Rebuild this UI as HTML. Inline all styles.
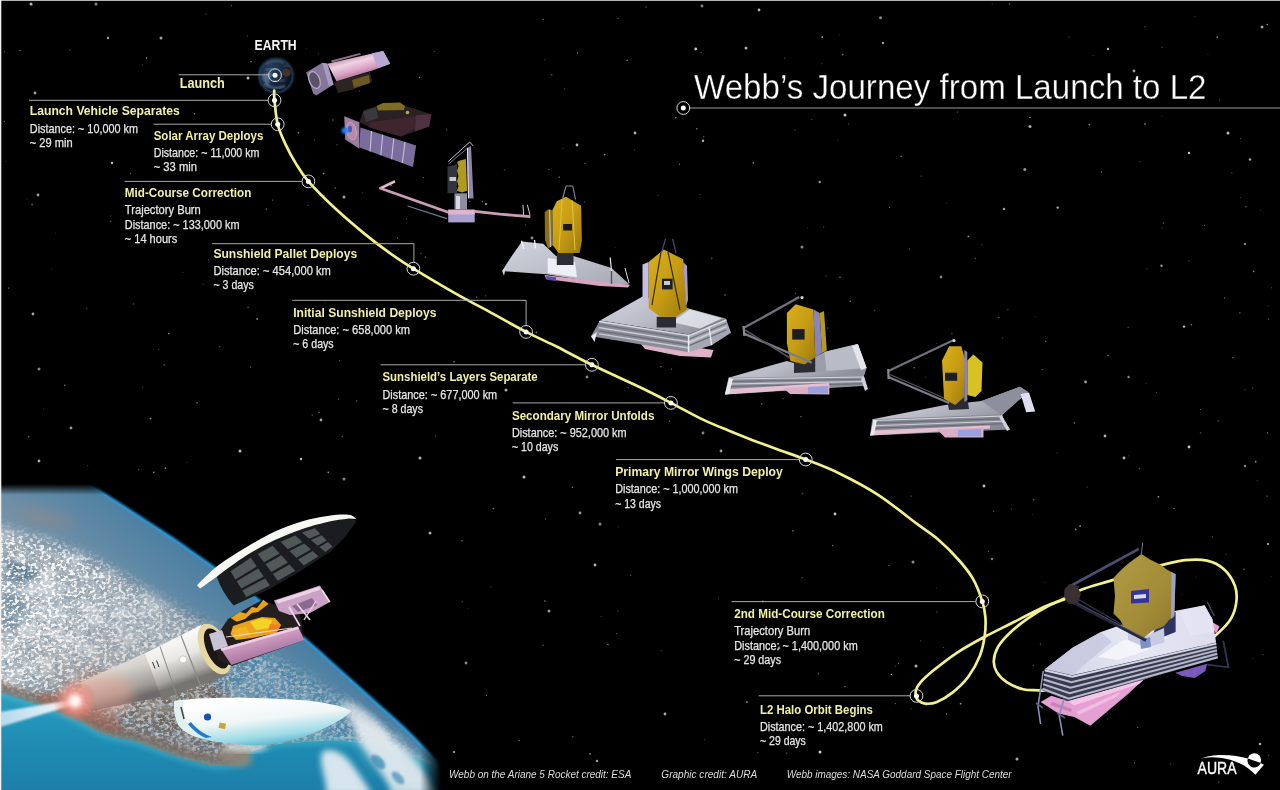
<!DOCTYPE html>
<html lang="en"><head><meta charset="utf-8"><title>Webb’s Journey from Launch to L2</title>
<style>
html,body{margin:0;padding:0;background:#000;}
body{width:1280px;height:790px;overflow:hidden;font-family:"Liberation Sans",sans-serif;}
svg{display:block;}
text{font-family:"Liberation Sans",sans-serif;}
.h{font-weight:bold;fill:#f1f0a6;font-size:12.8px;}
.b{fill:#e6e6e6;font-size:12.4px;stroke:#e6e6e6;stroke-width:0.25px;}
.c{fill:#dcdcdc;font-size:10.6px;font-style:italic;}
.ld{stroke:#a9a9a9;stroke-width:1;fill:none;}
.ring{fill:none;stroke:#d8d8d8;stroke-width:1;}
.dot{fill:#fff;}
</style></head><body>
<svg width="1280" height="790" viewBox="0 0 1280 790">
<rect width="1280" height="790" fill="#000"/>
<g id="stars" fill="#fff">
<circle cx="695.7" cy="49.0" r="1.4" opacity="0.78"/>
<circle cx="759.0" cy="10.0" r="1.4" opacity="0.70"/>
<circle cx="1108.0" cy="49.0" r="1.2" opacity="0.75"/>
<circle cx="819.7" cy="182.0" r="1.2" opacity="0.61"/>
<circle cx="1184.0" cy="326.6" r="1.2" opacity="0.77"/>
<circle cx="1245.0" cy="244.0" r="1.2" opacity="0.51"/>
<circle cx="1085.6" cy="382.0" r="1.4" opacity="0.63"/>
<circle cx="1128.6" cy="377.0" r="1.2" opacity="0.53"/>
<circle cx="941.0" cy="277.0" r="1.4" opacity="0.52"/>
<circle cx="802.0" cy="247.0" r="1.5" opacity="0.54"/>
<circle cx="703.0" cy="140.8" r="1.2" opacity="0.69"/>
<circle cx="845.0" cy="115.0" r="1.5" opacity="0.78"/>
<circle cx="1030.0" cy="126.6" r="1.5" opacity="0.68"/>
<circle cx="1189.0" cy="153.0" r="1.2" opacity="0.79"/>
<circle cx="1250.0" cy="159.5" r="1.2" opacity="0.67"/>
<circle cx="1161.5" cy="265.8" r="1.2" opacity="0.59"/>
<circle cx="1057.7" cy="207.6" r="1.2" opacity="0.66"/>
<circle cx="1024.8" cy="169.6" r="1.5" opacity="0.59"/>
<circle cx="880.5" cy="17.7" r="1.5" opacity="0.55"/>
<circle cx="746.0" cy="48.0" r="1.5" opacity="0.67"/>
<circle cx="883.0" cy="43.0" r="1.2" opacity="0.61"/>
<circle cx="31.0" cy="4.0" r="1.5" opacity="0.71"/>
<circle cx="96.0" cy="4.0" r="1.5" opacity="0.52"/>
<circle cx="108.0" cy="38.0" r="1.2" opacity="0.65"/>
<circle cx="161.0" cy="38.0" r="1.5" opacity="0.63"/>
<circle cx="35.0" cy="93.0" r="1.4" opacity="0.64"/>
<circle cx="38.0" cy="195.0" r="1.4" opacity="0.61"/>
<circle cx="112.0" cy="163.0" r="1.2" opacity="0.74"/>
<circle cx="248.0" cy="78.0" r="1.5" opacity="0.73"/>
<circle cx="348.0" cy="126.0" r="1.2" opacity="0.67"/>
<circle cx="344.0" cy="197.0" r="1.5" opacity="0.65"/>
<circle cx="577.0" cy="145.0" r="1.4" opacity="0.72"/>
<circle cx="635.0" cy="133.0" r="1.4" opacity="0.68"/>
<circle cx="486.0" cy="204.0" r="1.2" opacity="0.54"/>
<circle cx="532.0" cy="238.0" r="1.4" opacity="0.55"/>
<circle cx="587.0" cy="377.0" r="1.4" opacity="0.55"/>
<circle cx="33.0" cy="314.0" r="1.4" opacity="0.63"/>
<circle cx="39.0" cy="369.0" r="1.5" opacity="0.52"/>
<circle cx="506.0" cy="390.0" r="1.5" opacity="0.67"/>
<circle cx="71.0" cy="428.0" r="1.4" opacity="0.60"/>
<circle cx="39.0" cy="461.0" r="1.4" opacity="0.68"/>
<circle cx="240.0" cy="451.0" r="1.5" opacity="0.74"/>
<circle cx="301.0" cy="459.0" r="1.2" opacity="0.75"/>
<circle cx="321.0" cy="420.0" r="1.4" opacity="0.64"/>
<circle cx="344.0" cy="479.0" r="1.5" opacity="0.52"/>
<circle cx="420.0" cy="458.0" r="1.5" opacity="0.71"/>
<circle cx="430.0" cy="533.0" r="1.5" opacity="0.67"/>
<circle cx="524.0" cy="477.0" r="1.5" opacity="0.75"/>
<circle cx="595.0" cy="565.0" r="1.4" opacity="0.71"/>
<circle cx="549.0" cy="611.0" r="1.5" opacity="0.60"/>
<circle cx="580.0" cy="513.0" r="1.4" opacity="0.61"/>
<circle cx="600.0" cy="524.0" r="1.5" opacity="0.54"/>
<circle cx="454.0" cy="752.0" r="1.2" opacity="0.57"/>
<circle cx="466.0" cy="663.0" r="1.4" opacity="0.54"/>
<circle cx="597.0" cy="761.0" r="1.2" opacity="0.62"/>
<circle cx="703.0" cy="433.0" r="1.4" opacity="0.52"/>
<circle cx="721.0" cy="451.0" r="1.4" opacity="0.62"/>
<circle cx="835.0" cy="514.0" r="1.4" opacity="0.77"/>
<circle cx="984.0" cy="486.0" r="1.4" opacity="0.76"/>
<circle cx="1105.0" cy="436.0" r="1.4" opacity="0.71"/>
<circle cx="1124.0" cy="458.0" r="1.4" opacity="0.70"/>
<circle cx="1189.0" cy="447.0" r="1.4" opacity="0.79"/>
<circle cx="1245.0" cy="466.0" r="1.2" opacity="0.52"/>
<circle cx="1268.0" cy="544.0" r="1.2" opacity="0.57"/>
<circle cx="992.0" cy="559.0" r="1.2" opacity="0.50"/>
<circle cx="913.0" cy="562.0" r="1.5" opacity="0.55"/>
<circle cx="779.0" cy="648.0" r="1.4" opacity="0.50"/>
<circle cx="665.0" cy="714.0" r="1.4" opacity="0.66"/>
<circle cx="1017.0" cy="759.0" r="1.5" opacity="0.67"/>
<circle cx="1260.0" cy="744.0" r="1.2" opacity="0.71"/>
<circle cx="820.0" cy="752.0" r="1.5" opacity="0.79"/>
<circle cx="916.0" cy="666.0" r="1.5" opacity="0.70"/>
<circle cx="1004.0" cy="209.0" r="1.2" opacity="0.64"/>
<circle cx="1228.0" cy="133.0" r="1.5" opacity="0.74"/>
<circle cx="1134.0" cy="71.0" r="1.4" opacity="0.62"/>
<circle cx="702.0" cy="6.0" r="1.4" opacity="0.53"/>
<circle cx="1262.0" cy="27.0" r="1.5" opacity="0.62"/>
<circle cx="564.5" cy="89.1" r="0.80" opacity="0.22"/>
<circle cx="4.3" cy="121.4" r="0.50" opacity="0.58"/>
<circle cx="784.7" cy="58.1" r="0.55" opacity="0.45"/>
<circle cx="445.9" cy="288.1" r="0.50" opacity="0.25"/>
<circle cx="615.1" cy="247.2" r="0.55" opacity="0.24"/>
<circle cx="439.8" cy="210.3" r="0.90" opacity="0.26"/>
<circle cx="675.9" cy="117.8" r="0.80" opacity="0.57"/>
<circle cx="968.4" cy="236.4" r="0.90" opacity="0.55"/>
<circle cx="889.6" cy="207.5" r="0.60" opacity="0.56"/>
<circle cx="456.4" cy="177.4" r="0.80" opacity="0.51"/>
<circle cx="423.3" cy="177.6" r="0.55" opacity="0.52"/>
<circle cx="1044.9" cy="582.3" r="0.55" opacity="0.28"/>
<circle cx="630.8" cy="575.4" r="0.50" opacity="0.52"/>
<circle cx="604.7" cy="154.6" r="0.80" opacity="0.58"/>
<circle cx="572.9" cy="736.7" r="0.60" opacity="0.58"/>
<circle cx="467.8" cy="175.6" r="0.55" opacity="0.39"/>
<circle cx="1257.2" cy="480.8" r="0.50" opacity="0.39"/>
<circle cx="1161.2" cy="615.5" r="0.55" opacity="0.39"/>
<circle cx="1239.9" cy="312.9" r="0.70" opacity="0.50"/>
<circle cx="1267.2" cy="24.6" r="0.80" opacity="0.56"/>
<circle cx="1029.9" cy="117.5" r="0.80" opacity="0.59"/>
<circle cx="840.0" cy="277.4" r="0.80" opacity="0.42"/>
<circle cx="957.4" cy="112.0" r="0.55" opacity="0.53"/>
<circle cx="272.4" cy="200.2" r="0.60" opacity="0.40"/>
<circle cx="975.4" cy="258.2" r="0.80" opacity="0.37"/>
<circle cx="454.0" cy="361.7" r="0.80" opacity="0.53"/>
<circle cx="661.3" cy="650.7" r="0.80" opacity="0.25"/>
<circle cx="197.1" cy="402.8" r="0.70" opacity="0.51"/>
<circle cx="194.5" cy="113.8" r="0.80" opacity="0.49"/>
<circle cx="711.8" cy="258.2" r="0.80" opacity="0.41"/>
<circle cx="617.7" cy="611.0" r="0.80" opacity="0.22"/>
<circle cx="247.3" cy="36.0" r="0.50" opacity="0.40"/>
<circle cx="718.5" cy="598.1" r="0.50" opacity="0.38"/>
<circle cx="783.1" cy="398.8" r="0.80" opacity="0.28"/>
<circle cx="356.6" cy="400.9" r="0.70" opacity="0.40"/>
<circle cx="319.0" cy="412.7" r="0.60" opacity="0.57"/>
<circle cx="1139.6" cy="161.6" r="0.70" opacity="0.25"/>
<circle cx="158.7" cy="349.2" r="0.50" opacity="0.47"/>
<circle cx="548.8" cy="169.5" r="0.60" opacity="0.51"/>
<circle cx="1145.0" cy="123.9" r="0.90" opacity="0.46"/>
<circle cx="469.8" cy="201.2" r="0.55" opacity="0.59"/>
<circle cx="1263.1" cy="654.8" r="0.55" opacity="0.48"/>
<circle cx="1268.5" cy="319.2" r="0.70" opacity="0.28"/>
<circle cx="28.8" cy="436.8" r="0.70" opacity="0.48"/>
<circle cx="110.9" cy="215.9" r="0.55" opacity="0.31"/>
<circle cx="168.8" cy="333.6" r="0.90" opacity="0.53"/>
<circle cx="333.0" cy="120.0" r="0.80" opacity="0.43"/>
<circle cx="545.0" cy="59.7" r="0.50" opacity="0.45"/>
<circle cx="1093.1" cy="55.2" r="0.50" opacity="0.38"/>
<circle cx="435.4" cy="436.0" r="0.60" opacity="0.45"/>
<circle cx="337.1" cy="144.8" r="0.60" opacity="0.45"/>
<circle cx="679.5" cy="164.2" r="0.70" opacity="0.40"/>
<circle cx="27.1" cy="199.1" r="0.50" opacity="0.21"/>
<circle cx="658.1" cy="195.4" r="0.70" opacity="0.24"/>
<circle cx="1045.7" cy="341.4" r="0.70" opacity="0.42"/>
<circle cx="1134.5" cy="762.8" r="0.60" opacity="0.48"/>
<circle cx="1253.7" cy="271.3" r="0.90" opacity="0.49"/>
<circle cx="1253.0" cy="658.4" r="0.50" opacity="0.23"/>
<circle cx="946.4" cy="203.1" r="0.55" opacity="0.22"/>
<circle cx="850.2" cy="301.2" r="0.80" opacity="0.47"/>
<circle cx="362.6" cy="192.7" r="0.60" opacity="0.22"/>
<circle cx="8.6" cy="288.1" r="0.60" opacity="0.59"/>
<circle cx="699.9" cy="194.4" r="0.60" opacity="0.29"/>
<circle cx="110.7" cy="221.4" r="0.90" opacity="0.28"/>
<circle cx="646.0" cy="6.9" r="0.60" opacity="0.53"/>
<circle cx="187.0" cy="462.5" r="0.70" opacity="0.21"/>
<circle cx="391.0" cy="185.3" r="0.80" opacity="0.58"/>
<circle cx="1089.3" cy="124.6" r="0.90" opacity="0.51"/>
<circle cx="762.8" cy="601.5" r="0.90" opacity="0.59"/>
<circle cx="822.2" cy="37.3" r="0.90" opacity="0.56"/>
<circle cx="802.0" cy="577.6" r="0.80" opacity="0.26"/>
<circle cx="670.2" cy="397.9" r="0.50" opacity="0.53"/>
<circle cx="746.9" cy="702.1" r="0.90" opacity="0.58"/>
<circle cx="1224.5" cy="297.9" r="0.70" opacity="0.42"/>
<circle cx="802.5" cy="493.3" r="0.90" opacity="0.30"/>
<circle cx="339.5" cy="360.8" r="0.50" opacity="0.50"/>
<circle cx="842.6" cy="54.7" r="0.90" opacity="0.39"/>
<circle cx="1033.3" cy="665.5" r="0.55" opacity="0.49"/>
<circle cx="1245.1" cy="389.8" r="0.70" opacity="0.23"/>
<circle cx="1162.1" cy="228.0" r="0.50" opacity="0.45"/>
<circle cx="821.6" cy="63.7" r="0.55" opacity="0.33"/>
<circle cx="832.8" cy="545.5" r="0.80" opacity="0.43"/>
<circle cx="19.9" cy="50.5" r="0.60" opacity="0.59"/>
<circle cx="130.6" cy="173.5" r="0.70" opacity="0.32"/>
<circle cx="661.0" cy="366.8" r="0.70" opacity="0.51"/>
<circle cx="1267.5" cy="432.9" r="0.60" opacity="0.59"/>
<circle cx="1194.9" cy="16.7" r="0.70" opacity="0.23"/>
<circle cx="1268.3" cy="305.9" r="0.55" opacity="0.23"/>
<circle cx="359.6" cy="91.2" r="0.60" opacity="0.29"/>
<circle cx="1145.9" cy="383.6" r="0.50" opacity="0.26"/>
<circle cx="1212.3" cy="536.7" r="0.70" opacity="0.32"/>
<circle cx="183.0" cy="272.3" r="0.60" opacity="0.25"/>
<circle cx="425.4" cy="257.1" r="0.60" opacity="0.54"/>
<circle cx="911.0" cy="708.9" r="0.60" opacity="0.30"/>
<circle cx="86.7" cy="308.5" r="0.80" opacity="0.23"/>
<circle cx="1181.1" cy="594.7" r="0.50" opacity="0.31"/>
<circle cx="811.7" cy="119.6" r="0.60" opacity="0.37"/>
<circle cx="1002.7" cy="337.9" r="0.50" opacity="0.52"/>
<circle cx="1200.6" cy="433.0" r="0.90" opacity="0.23"/>
<circle cx="1191.4" cy="324.7" r="0.80" opacity="0.50"/>
<circle cx="823.8" cy="227.1" r="0.50" opacity="0.56"/>
<circle cx="703.7" cy="136.7" r="0.70" opacity="0.34"/>
<circle cx="1245.8" cy="206.7" r="0.90" opacity="0.30"/>
<circle cx="618.6" cy="526.7" r="0.50" opacity="0.27"/>
<circle cx="1156.4" cy="392.2" r="0.55" opacity="0.38"/>
<circle cx="314.5" cy="139.8" r="0.80" opacity="0.24"/>
<circle cx="308.2" cy="205.3" r="0.80" opacity="0.28"/>
<circle cx="491.0" cy="587.0" r="0.55" opacity="0.35"/>
<circle cx="434.2" cy="51.6" r="0.60" opacity="0.43"/>
<circle cx="462.1" cy="540.7" r="0.80" opacity="0.45"/>
<circle cx="1101.6" cy="172.1" r="0.60" opacity="0.56"/>
<circle cx="493.2" cy="508.7" r="0.70" opacity="0.58"/>
<circle cx="1083.5" cy="686.5" r="0.50" opacity="0.25"/>
<circle cx="544.9" cy="601.0" r="0.70" opacity="0.59"/>
<circle cx="627.1" cy="60.3" r="0.80" opacity="0.54"/>
<circle cx="1240.7" cy="197.5" r="0.50" opacity="0.29"/>
<circle cx="895.7" cy="665.8" r="0.70" opacity="0.23"/>
<circle cx="992.2" cy="4.1" r="0.55" opacity="0.29"/>
<circle cx="1174.1" cy="508.4" r="0.60" opacity="0.58"/>
<circle cx="800.9" cy="416.6" r="0.70" opacity="0.48"/>
<circle cx="146.6" cy="58.1" r="0.80" opacity="0.58"/>
<circle cx="1009.5" cy="3.9" r="0.80" opacity="0.32"/>
<circle cx="590.0" cy="753.8" r="0.90" opacity="0.54"/>
<circle cx="312.3" cy="415.1" r="0.80" opacity="0.30"/>
<circle cx="1225.9" cy="554.7" r="0.60" opacity="0.22"/>
<circle cx="889.1" cy="565.5" r="0.60" opacity="0.47"/>
<circle cx="944.2" cy="398.3" r="0.55" opacity="0.40"/>
<circle cx="250.7" cy="367.2" r="0.60" opacity="0.50"/>
<circle cx="634.6" cy="149.7" r="0.55" opacity="0.39"/>
<circle cx="1162.0" cy="47.2" r="0.80" opacity="0.26"/>
<circle cx="504.5" cy="169.7" r="0.80" opacity="0.26"/>
<circle cx="69.9" cy="50.1" r="0.70" opacity="0.38"/>
<circle cx="909.7" cy="249.0" r="0.50" opacity="0.60"/>
<circle cx="1189.0" cy="260.8" r="0.55" opacity="0.46"/>
<circle cx="671.5" cy="369.1" r="0.60" opacity="0.47"/>
<circle cx="485.6" cy="295.8" r="0.60" opacity="0.38"/>
<circle cx="142.6" cy="64.3" r="0.50" opacity="0.34"/>
<circle cx="1219.4" cy="99.9" r="0.55" opacity="0.35"/>
<circle cx="981.8" cy="244.7" r="0.70" opacity="0.24"/>
<circle cx="901.1" cy="156.2" r="0.80" opacity="0.57"/>
<circle cx="1145.0" cy="26.7" r="0.70" opacity="0.30"/>
<circle cx="799.5" cy="319.9" r="0.70" opacity="0.21"/>
<circle cx="1147.0" cy="268.5" r="0.60" opacity="0.33"/>
<circle cx="1217.2" cy="37.1" r="0.90" opacity="0.49"/>
<circle cx="406.6" cy="218.8" r="0.50" opacity="0.49"/>
<circle cx="1207.9" cy="54.2" r="0.55" opacity="0.24"/>
<circle cx="914.2" cy="367.7" r="0.70" opacity="0.52"/>
<circle cx="1166.0" cy="641.0" r="0.55" opacity="0.57"/>
<circle cx="943.4" cy="647.2" r="0.55" opacity="0.44"/>
<circle cx="421.0" cy="253.2" r="0.60" opacity="0.51"/>
<circle cx="761.8" cy="403.8" r="0.70" opacity="0.50"/>
<circle cx="318.6" cy="53.7" r="0.50" opacity="0.39"/>
<circle cx="696.8" cy="128.8" r="0.70" opacity="0.55"/>
<circle cx="1260.5" cy="210.4" r="0.50" opacity="0.28"/>
<circle cx="1240.5" cy="138.6" r="0.55" opacity="0.37"/>
<circle cx="793.0" cy="530.8" r="0.90" opacity="0.42"/>
<circle cx="988.4" cy="597.7" r="0.60" opacity="0.32"/>
<circle cx="725.1" cy="295.0" r="0.90" opacity="0.30"/>
<circle cx="562.9" cy="148.4" r="0.55" opacity="0.26"/>
<circle cx="1128.7" cy="455.8" r="0.60" opacity="0.23"/>
<circle cx="324.1" cy="195.6" r="0.80" opacity="0.29"/>
<circle cx="1032.3" cy="514.6" r="0.50" opacity="0.24"/>
<circle cx="607.9" cy="644.4" r="0.70" opacity="0.57"/>
<circle cx="55.3" cy="232.9" r="0.50" opacity="0.22"/>
<circle cx="251.0" cy="61.8" r="0.80" opacity="0.55"/>
<circle cx="575.3" cy="206.5" r="0.90" opacity="0.58"/>
<circle cx="138.6" cy="469.8" r="0.80" opacity="0.34"/>
<circle cx="51.6" cy="269.2" r="0.50" opacity="0.28"/>
<circle cx="328.3" cy="472.3" r="0.90" opacity="0.57"/>
<circle cx="1040.4" cy="644.1" r="0.70" opacity="0.47"/>
<circle cx="701.1" cy="52.5" r="0.50" opacity="0.52"/>
<circle cx="848.6" cy="124.0" r="0.80" opacity="0.24"/>
<circle cx="525.3" cy="224.8" r="0.60" opacity="0.37"/>
<circle cx="1128.1" cy="327.2" r="0.50" opacity="0.55"/>
<circle cx="1271.7" cy="287.8" r="0.55" opacity="0.36"/>
<circle cx="519.1" cy="740.6" r="0.70" opacity="0.56"/>
<circle cx="543.0" cy="645.3" r="0.70" opacity="0.43"/>
<circle cx="467.9" cy="608.3" r="0.55" opacity="0.21"/>
<circle cx="795.4" cy="293.4" r="0.80" opacity="0.27"/>
<circle cx="446.6" cy="129.7" r="0.55" opacity="0.57"/>
<circle cx="142.4" cy="387.1" r="0.55" opacity="0.32"/>
<circle cx="1069.0" cy="37.1" r="0.70" opacity="0.33"/>
<circle cx="818.5" cy="673.7" r="0.80" opacity="0.36"/>
<circle cx="1080.6" cy="652.3" r="0.55" opacity="0.43"/>
<circle cx="203.0" cy="284.3" r="0.55" opacity="0.30"/>
<circle cx="926.1" cy="705.6" r="0.50" opacity="0.55"/>
<circle cx="1075.6" cy="529.4" r="0.90" opacity="0.54"/>
<circle cx="153.8" cy="472.4" r="0.80" opacity="0.54"/>
<circle cx="993.7" cy="511.2" r="0.60" opacity="0.43"/>
<circle cx="545.5" cy="518.9" r="0.70" opacity="0.40"/>
<circle cx="231.4" cy="5.7" r="0.70" opacity="0.39"/>
<circle cx="572.4" cy="487.3" r="0.70" opacity="0.53"/>
<circle cx="1035.0" cy="316.5" r="0.50" opacity="0.25"/>
<circle cx="551.7" cy="74.8" r="0.70" opacity="0.40"/>
<circle cx="839.8" cy="34.8" r="0.55" opacity="0.23"/>
<circle cx="937.0" cy="611.9" r="0.80" opacity="0.23"/>
<circle cx="960.6" cy="703.7" r="0.90" opacity="0.58"/>
<circle cx="1271.1" cy="576.2" r="0.50" opacity="0.28"/>
<circle cx="1252.8" cy="388.1" r="0.55" opacity="0.47"/>
<circle cx="921.2" cy="176.1" r="0.60" opacity="0.44"/>
<circle cx="584.5" cy="202.0" r="0.70" opacity="0.28"/>
<circle cx="338.4" cy="399.2" r="0.60" opacity="0.35"/>
<circle cx="257.1" cy="318.9" r="0.90" opacity="0.57"/>
<circle cx="150.4" cy="418.6" r="0.90" opacity="0.54"/>
<circle cx="1232.9" cy="357.7" r="0.80" opacity="0.43"/>
<circle cx="1267.0" cy="496.1" r="0.70" opacity="0.50"/>
<circle cx="476.5" cy="297.2" r="0.60" opacity="0.43"/>
<circle cx="462.2" cy="601.7" r="0.70" opacity="0.29"/>
<circle cx="786.8" cy="753.1" r="0.60" opacity="0.53"/>
<circle cx="1255.7" cy="461.7" r="0.90" opacity="0.56"/>
<circle cx="936.4" cy="588.0" r="0.55" opacity="0.26"/>
<circle cx="787.6" cy="341.4" r="0.80" opacity="0.35"/>
<circle cx="64.8" cy="385.4" r="0.80" opacity="0.46"/>
<circle cx="32.4" cy="5.0" r="0.60" opacity="0.32"/>
<circle cx="669.4" cy="421.2" r="0.70" opacity="0.43"/>
<circle cx="753.3" cy="162.9" r="0.80" opacity="0.53"/>
<circle cx="205.8" cy="14.0" r="0.55" opacity="0.48"/>
<circle cx="577.5" cy="52.9" r="0.55" opacity="0.55"/>
<circle cx="998.9" cy="317.7" r="0.60" opacity="0.59"/>
<circle cx="1139.5" cy="468.7" r="0.80" opacity="0.38"/>
<circle cx="1196.1" cy="577.3" r="0.55" opacity="0.27"/>
<circle cx="4.5" cy="51.2" r="0.50" opacity="0.36"/>
<circle cx="306.3" cy="48.7" r="0.50" opacity="0.20"/>
<circle cx="704.8" cy="739.7" r="0.55" opacity="0.37"/>
<circle cx="827.7" cy="328.1" r="0.80" opacity="0.27"/>
<circle cx="397.5" cy="238.1" r="0.50" opacity="0.60"/>
<circle cx="925.3" cy="377.2" r="0.80" opacity="0.20"/>
<circle cx="1078.1" cy="586.5" r="0.70" opacity="0.23"/>
<circle cx="837.8" cy="140.3" r="0.50" opacity="0.30"/>
<circle cx="1137.7" cy="727.4" r="0.60" opacity="0.48"/>
<circle cx="342.3" cy="436.6" r="0.70" opacity="0.47"/>
<circle cx="1170.8" cy="764.0" r="0.60" opacity="0.46"/>
<circle cx="1231.7" cy="172.9" r="0.80" opacity="0.21"/>
<circle cx="335.2" cy="187.9" r="0.90" opacity="0.28"/>
<circle cx="248.1" cy="307.4" r="0.80" opacity="0.30"/>
<circle cx="1158.4" cy="496.8" r="0.90" opacity="0.59"/>
<circle cx="1074.4" cy="423.0" r="0.70" opacity="0.54"/>
<circle cx="891.4" cy="674.4" r="0.70" opacity="0.58"/>
<circle cx="1007.9" cy="309.6" r="0.80" opacity="0.23"/>
<circle cx="1162.5" cy="116.2" r="0.50" opacity="0.24"/>
<circle cx="795.1" cy="129.7" r="0.55" opacity="0.48"/>
<circle cx="822.6" cy="36.4" r="0.50" opacity="0.49"/>
<circle cx="87.7" cy="465.3" r="0.60" opacity="0.28"/>
<circle cx="1218.2" cy="421.0" r="0.90" opacity="0.23"/>
<circle cx="1107.8" cy="719.0" r="0.70" opacity="0.24"/>
<circle cx="265.7" cy="90.7" r="0.50" opacity="0.58"/>
<circle cx="1162.9" cy="593.2" r="0.50" opacity="0.53"/>
<circle cx="807.3" cy="228.0" r="0.50" opacity="0.25"/>
<circle cx="1011.4" cy="509.1" r="0.60" opacity="0.33"/>
<circle cx="543.0" cy="19.4" r="0.60" opacity="0.57"/>
<circle cx="1161.9" cy="605.3" r="0.80" opacity="0.40"/>
<circle cx="1087.0" cy="487.1" r="0.50" opacity="0.52"/>
<circle cx="43.7" cy="409.1" r="0.50" opacity="0.34"/>
<circle cx="900.3" cy="424.2" r="0.55" opacity="0.49"/>
<circle cx="1057.0" cy="452.9" r="0.60" opacity="0.27"/>
<circle cx="5.7" cy="161.2" r="0.50" opacity="0.20"/>
<circle cx="628.3" cy="387.8" r="0.55" opacity="0.59"/>
<circle cx="757.7" cy="752.5" r="0.80" opacity="0.30"/>
<circle cx="1204.6" cy="225.2" r="0.55" opacity="0.58"/>
<circle cx="298.5" cy="132.8" r="0.90" opacity="0.51"/>
<circle cx="419.5" cy="77.5" r="0.70" opacity="0.56"/>
<circle cx="951.9" cy="333.5" r="0.90" opacity="0.21"/>
<circle cx="266.2" cy="209.1" r="0.80" opacity="0.40"/>
<circle cx="486.5" cy="695.2" r="0.55" opacity="0.58"/>
<circle cx="165.4" cy="468.2" r="0.90" opacity="0.50"/>
<circle cx="826.1" cy="275.9" r="0.60" opacity="0.41"/>
<circle cx="1108.1" cy="355.6" r="0.80" opacity="0.50"/>
<circle cx="219.7" cy="346.6" r="0.60" opacity="0.43"/>
<circle cx="164.3" cy="364.8" r="0.90" opacity="0.30"/>
<circle cx="898.4" cy="663.6" r="0.55" opacity="0.49"/>
<circle cx="1243.9" cy="569.2" r="0.80" opacity="0.41"/>
<circle cx="208.7" cy="259.9" r="0.55" opacity="0.30"/>
<circle cx="1218.7" cy="782.0" r="0.55" opacity="0.58"/>
<circle cx="133.3" cy="303.9" r="0.55" opacity="0.52"/>
<circle cx="936.7" cy="343.5" r="0.55" opacity="0.24"/>
<circle cx="1163.3" cy="222.9" r="0.70" opacity="0.39"/>
<circle cx="559.3" cy="177.2" r="0.90" opacity="0.32"/>
<circle cx="32.1" cy="204.4" r="0.90" opacity="0.36"/>
<circle cx="946.5" cy="714.0" r="0.70" opacity="0.48"/>
<circle cx="1080.1" cy="526.0" r="0.90" opacity="0.55"/>
<circle cx="988.6" cy="551.2" r="0.55" opacity="0.47"/>
<circle cx="820.0" cy="358.4" r="0.60" opacity="0.30"/>
<circle cx="895.2" cy="703.6" r="0.55" opacity="0.51"/>
<circle cx="911.1" cy="496.0" r="0.60" opacity="0.54"/>
<circle cx="618.0" cy="18.4" r="0.70" opacity="0.41"/>
<circle cx="844.9" cy="686.6" r="0.90" opacity="0.33"/>
<circle cx="323.6" cy="173.6" r="0.90" opacity="0.51"/>
<circle cx="1200.4" cy="409.5" r="0.50" opacity="0.54"/>
<circle cx="585.0" cy="163.5" r="0.70" opacity="0.40"/>
<circle cx="667.6" cy="324.3" r="0.70" opacity="0.28"/>
<circle cx="874.5" cy="310.3" r="0.50" opacity="0.49"/>
<circle cx="325.1" cy="302.0" r="0.50" opacity="0.21"/>
<circle cx="536.4" cy="332.3" r="0.90" opacity="0.47"/>
<circle cx="1268.7" cy="755.3" r="0.70" opacity="0.28"/>
<circle cx="1033.8" cy="499.7" r="0.70" opacity="0.46"/>
<circle cx="920.7" cy="640.9" r="0.55" opacity="0.34"/>
<circle cx="1042.2" cy="369.5" r="0.60" opacity="0.50"/>
<circle cx="601.1" cy="616.6" r="0.55" opacity="0.31"/>
<circle cx="482.5" cy="201.5" r="0.70" opacity="0.47"/>
<circle cx="616.6" cy="633.7" r="0.60" opacity="0.34"/>
</g>
<defs>
<clipPath id="earthClip"><path d="M60.0,470.0 C65.2,472.7 82.0,480.9 91.0,486.0 C100.0,491.1 107.0,495.9 114.0,500.4 C121.0,504.8 126.7,508.6 133.0,512.7 C139.3,516.8 145.7,520.9 152.0,525.0 C158.3,529.1 164.7,533.1 171.0,537.4 C177.3,541.7 183.7,546.3 190.0,550.7 C196.3,555.1 201.3,558.5 209.0,564.0 C216.7,569.5 227.0,576.9 236.0,583.5 C245.0,590.1 251.7,594.6 263.0,603.7 C274.3,612.8 293.2,629.0 303.8,638.1 C314.4,647.2 318.6,651.2 326.6,658.4 C334.6,665.6 343.5,673.5 351.9,681.1 C360.3,688.7 368.8,696.3 377.2,703.9 C385.6,711.5 394.9,719.5 402.5,726.7 C410.1,733.9 416.6,740.5 422.8,747.0 C429.1,753.5 433.8,758.8 440.0,766.0 C446.2,773.2 456.7,786.0 460.0,790.0 L460,800 L-5,800 L-5,470 Z"/></clipPath>
<linearGradient id="efTop" x1="0" y1="484" x2="0" y2="495" gradientUnits="userSpaceOnUse"><stop offset="0" stop-color="#000"/><stop offset="1" stop-color="#fff"/></linearGradient>
<linearGradient id="efRight" x1="420" y1="0" x2="441" y2="0" gradientUnits="userSpaceOnUse"><stop offset="0" stop-color="#000" stop-opacity="0"/><stop offset="1" stop-color="#000"/></linearGradient>
<mask id="earthMask" maskUnits="userSpaceOnUse" x="0" y="470" width="470" height="330">
  <rect x="0" y="470" width="462" height="330" fill="url(#efTop)"/>
  <rect x="400" y="470" width="70" height="330" fill="url(#efRight)"/>
</mask>
<linearGradient id="oceanG" x1="0" y1="690" x2="0" y2="790" gradientUnits="userSpaceOnUse">
  <stop offset="0" stop-color="#2c9fc2"/><stop offset="0.5" stop-color="#1f8db4"/><stop offset="1" stop-color="#1b7fa9"/>
</linearGradient>
<linearGradient id="hazeG" x1="250" y1="560" x2="170" y2="660" gradientUnits="userSpaceOnUse">
  <stop offset="0" stop-color="#3c78a0"/><stop offset="0.5" stop-color="#5a86a4"/><stop offset="1" stop-color="#7894a8"/>
</linearGradient>
<linearGradient id="spkG" x1="60" y1="590" x2="230" y2="740" gradientUnits="userSpaceOnUse"><stop offset="0" stop-color="#fff"/><stop offset="0.45" stop-color="#9a9a9a"/><stop offset="1" stop-color="#6a6a6a"/></linearGradient>
<mask id="spkMask" maskUnits="userSpaceOnUse" x="0" y="470" width="470" height="330"><rect x="0" y="470" width="470" height="330" fill="url(#spkG)"/></mask>
<filter id="bl3" x="-20%" y="-20%" width="140%" height="140%"><feGaussianBlur stdDeviation="3"/></filter>
<filter id="bl6" x="-30%" y="-30%" width="160%" height="160%"><feGaussianBlur stdDeviation="6"/></filter>
<filter id="bl12" x="-40%" y="-40%" width="180%" height="180%"><feGaussianBlur stdDeviation="12"/></filter>
<filter id="bl1" x="-20%" y="-20%" width="140%" height="140%"><feGaussianBlur stdDeviation="0.8"/></filter>
<filter id="cloudsF" x="0" y="0" width="100%" height="100%">
  <feTurbulence type="fractalNoise" baseFrequency="0.27 0.33" numOctaves="2" seed="11" result="n"/>
  <feColorMatrix in="n" type="matrix" values="0 0 0 0 1  0 0 0 0 1  0 0 0 0 1  5 5 0 0 -4.95"/>
</filter>
<filter id="cloudsD" x="0" y="0" width="100%" height="100%">
  <feTurbulence type="fractalNoise" baseFrequency="0.22 0.28" numOctaves="2" seed="29" result="n"/>
  <feColorMatrix in="n" type="matrix" values="0 0 0 0 0.25  0 0 0 0 0.33  0 0 0 0 0.4  4.5 4.5 0 0 -4.4"/>
</filter>
<filter id="cloudsBig" x="0" y="0" width="100%" height="100%">
  <feTurbulence type="fractalNoise" baseFrequency="0.035 0.05" numOctaves="3" seed="4" result="n"/>
  <feColorMatrix in="n" type="matrix" values="0 0 0 0 1  0 0 0 0 1  0 0 0 0 1  4 4 0 0 -3.9"/>
</filter>
</defs>
<g mask="url(#earthMask)">
<g clip-path="url(#earthClip)">
<rect x="0" y="470" width="470" height="330" fill="#76838d"/>
<ellipse cx="150" cy="688" rx="135" ry="40" transform="rotate(22 150 688)" fill="#6a5e54" opacity="0.9" filter="url(#bl12)"/>
<ellipse cx="318" cy="692" rx="125" ry="46" transform="rotate(42 318 692)" fill="#4f88aa" opacity="0.97" filter="url(#bl12)"/>
<ellipse cx="262" cy="688" rx="60" ry="24" transform="rotate(28 262 688)" fill="#5488aa" opacity="0.9" filter="url(#bl6)"/>
<ellipse cx="80" cy="610" rx="135" ry="52" transform="rotate(27 80 610)" fill="#c4ccd3" opacity="0.7" filter="url(#bl12)"/>
<ellipse cx="20" cy="650" rx="70" ry="45" fill="#d4dade" opacity="0.6" filter="url(#bl12)"/>
<ellipse cx="18" cy="572" rx="22" ry="10" transform="rotate(15 18 572)" fill="#456a82" opacity="0.75" filter="url(#bl3)"/>
<ellipse cx="12" cy="612" rx="14" ry="18" fill="#4d728a" opacity="0.6" filter="url(#bl3)"/>
<rect x="0" y="480" width="450" height="310" filter="url(#cloudsD)" opacity="0.8"/>
<g mask="url(#spkMask)">
<rect x="0" y="480" width="450" height="310" filter="url(#cloudsF)" opacity="0.88"/>
<rect x="0" y="480" width="450" height="310" filter="url(#cloudsBig)" opacity="0.35"/>
</g>
<path d="M74.0,454.0 C79.2,456.7 96.0,464.9 105.0,470.0 C114.0,475.1 121.0,479.9 128.0,484.4 C135.0,488.8 140.7,492.6 147.0,496.7 C153.3,500.8 159.7,504.9 166.0,509.0 C172.3,513.1 178.7,517.1 185.0,521.4 C191.3,525.7 197.7,530.3 204.0,534.7 C210.3,539.1 215.3,542.5 223.0,548.0 C230.7,553.5 241.0,560.9 250.0,567.5 C259.0,574.1 265.7,578.6 277.0,587.7 C288.3,596.8 307.2,613.0 317.8,622.1 C328.4,631.2 332.6,635.2 340.6,642.4 C348.6,649.6 357.5,657.5 365.9,665.1 C374.3,672.7 382.8,680.3 391.2,687.9 C399.6,695.5 408.9,703.5 416.5,710.7 C424.1,717.9 430.6,724.5 436.8,731.0 C443.1,737.5 447.8,742.8 454.0,750.0 C460.2,757.2 470.7,770.0 474.0,774.0 L490,800 L450.0,795.0 L435.0,776.0 L400.0,740.0 L350.0,703.0 L300.0,672.0 L250.0,646.0 L200.0,620.0 L150.0,592.0 L100.0,562.0 L50.0,541.0 L0.0,528.0 L-20.0,522.0 L-20,440 Z" fill="url(#hazeG)" filter="url(#bl6)"/>
<ellipse cx="45" cy="518" rx="30" ry="9" transform="rotate(12 45 518)" fill="#93898a" opacity="0.5" filter="url(#bl6)"/>
<path d="M-5.0,690.0 C-4.2,690.4 -6.0,690.4 0.0,692.6 C6.0,694.8 19.0,698.8 31.0,703.0 C43.0,707.2 59.9,712.5 72.0,717.8 C84.1,723.1 93.0,730.7 103.4,734.7 C113.9,738.7 123.9,738.7 134.7,741.9 C145.5,745.1 158.8,750.7 168.4,753.9 C178.0,757.1 184.4,759.1 192.4,761.1 C200.4,763.1 208.6,765.6 216.5,766.0 C224.4,766.4 234.1,765.8 240.0,763.5 C245.9,761.2 250.0,753.9 252.0,752.0" fill="none" stroke="#7c6152" stroke-width="20" opacity="0.8" filter="url(#bl3)"/>
<ellipse cx="80" cy="712" rx="45" ry="12" transform="rotate(20 80 712)" fill="#a0614f" opacity="0.6" filter="url(#bl3)"/>
<path d="M-5.0,690.0 C-4.2,690.4 -6.0,690.4 0.0,692.6 C6.0,694.8 19.0,698.8 31.0,703.0 C43.0,707.2 59.9,712.5 72.0,717.8 C84.1,723.1 93.0,730.7 103.4,734.7 C113.9,738.7 123.9,738.7 134.7,741.9 C145.5,745.1 158.8,750.7 168.4,753.9 C178.0,757.1 184.4,759.1 192.4,761.1 C200.4,763.1 208.6,765.6 216.5,766.0 C224.4,766.4 234.1,765.8 240.0,763.5 C245.9,761.2 246.0,755.2 252.0,752.0 C258.0,748.8 267.0,746.1 276.0,744.4 C285.0,742.7 295.3,742.5 306.0,741.9 C316.7,741.3 327.7,740.1 340.0,741.0 C352.3,741.9 365.0,743.2 380.0,747.0 C395.0,750.8 415.0,756.0 430.0,764.0 C445.0,772.0 463.3,789.8 470.0,795.0 L-5,795 Z" fill="url(#oceanG)"/>
<path d="M-5.0,690.0 C-4.2,690.4 -6.0,690.4 0.0,692.6 C6.0,694.8 19.0,698.8 31.0,703.0 C43.0,707.2 59.9,712.5 72.0,717.8 C84.1,723.1 93.0,730.7 103.4,734.7 C113.9,738.7 123.9,738.7 134.7,741.9 C145.5,745.1 158.8,750.7 168.4,753.9 C178.0,757.1 184.4,759.1 192.4,761.1 C200.4,763.1 208.6,765.6 216.5,766.0 C224.4,766.4 234.1,765.8 240.0,763.5 C245.9,761.2 246.0,755.2 252.0,752.0 C258.0,748.8 267.0,746.1 276.0,744.4 C285.0,742.7 295.3,742.5 306.0,741.9 C316.7,741.3 327.7,740.1 340.0,741.0 C352.3,741.9 365.0,743.2 380.0,747.0 C395.0,750.8 415.0,756.0 430.0,764.0 C445.0,772.0 463.3,789.8 470.0,795.0" fill="none" stroke="#58c4d4" stroke-width="4" opacity="0.7" filter="url(#bl3)"/>
<ellipse cx="392" cy="758" rx="44" ry="16" transform="rotate(42 392 758)" fill="#dfe7ec" opacity="0.6" filter="url(#bl6)"/>
<path d="M322,752 C330,747 342,752 350,762 C358,772 366,784 372,795 L326,795 C328,782 318,764 322,752 Z" fill="#e6eef3" opacity="0.92" filter="url(#bl3)"/>
<path d="M356,716 C372,722 392,738 408,754 C420,766 430,780 436,795 L392,795 C388,778 372,760 362,744 C356,734 352,722 356,716 Z" fill="#e3eaef" opacity="0.85" filter="url(#bl3)"/>
<ellipse cx="378" cy="762" rx="9" ry="5" transform="rotate(45 378 762)" fill="#3f8fb4" opacity="0.8" filter="url(#bl1)"/>
<ellipse cx="398" cy="778" rx="8" ry="4" transform="rotate(45 398 778)" fill="#3f8fb4" opacity="0.7" filter="url(#bl1)"/>
<ellipse cx="365" cy="722" rx="30" ry="9" transform="rotate(40 365 722)" fill="#dfe6ea" opacity="0.75" filter="url(#bl3)"/>
<ellipse cx="236" cy="757" rx="17" ry="9" transform="rotate(15 236 757)" fill="#8d8678" opacity="0.9" filter="url(#bl3)"/>
<ellipse cx="245" cy="747" rx="22" ry="5" fill="#e3e9ec" opacity="0.8" filter="url(#bl3)"/>
</g>
<path d="M60.0,470.0 C65.2,472.7 82.0,480.9 91.0,486.0 C100.0,491.1 107.0,495.9 114.0,500.4 C121.0,504.8 126.7,508.6 133.0,512.7 C139.3,516.8 145.7,520.9 152.0,525.0 C158.3,529.1 164.7,533.1 171.0,537.4 C177.3,541.7 183.7,546.3 190.0,550.7 C196.3,555.1 201.3,558.5 209.0,564.0 C216.7,569.5 227.0,576.9 236.0,583.5 C245.0,590.1 251.7,594.6 263.0,603.7 C274.3,612.8 293.2,629.0 303.8,638.1 C314.4,647.2 318.6,651.2 326.6,658.4 C334.6,665.6 343.5,673.5 351.9,681.1 C360.3,688.7 368.8,696.3 377.2,703.9 C385.6,711.5 394.9,719.5 402.5,726.7 C410.1,733.9 416.6,740.5 422.8,747.0 C429.1,753.5 433.8,758.8 440.0,766.0 C446.2,773.2 456.7,786.0 460.0,790.0" fill="none" stroke="#2a98dc" stroke-width="3.2" opacity="0.9" filter="url(#bl1)"/>
</g>
<defs>
<linearGradient id="rkBody" x1="150" y1="640" x2="164" y2="690" gradientUnits="userSpaceOnUse">
 <stop offset="0" stop-color="#f1efeb"/><stop offset="0.4" stop-color="#d6d3cd"/><stop offset="0.8" stop-color="#a09d98"/><stop offset="1" stop-color="#6d6b69"/>
</linearGradient>
<linearGradient id="rkWhite" x1="180" y1="628" x2="198" y2="678" gradientUnits="userSpaceOnUse">
 <stop offset="0" stop-color="#ffffff"/><stop offset="0.5" stop-color="#e9e8e4"/><stop offset="0.85" stop-color="#a9a7a2"/><stop offset="1" stop-color="#77756f"/>
</linearGradient>
<linearGradient id="fairLow" x1="260" y1="697" x2="266" y2="746" gradientUnits="userSpaceOnUse">
 <stop offset="0" stop-color="#ffffff"/><stop offset="0.45" stop-color="#eef6f6"/><stop offset="0.8" stop-color="#9fdbe6"/><stop offset="1" stop-color="#54b6cf"/>
</linearGradient>
<radialGradient id="exG" cx="75" cy="701" r="22" gradientUnits="userSpaceOnUse">
 <stop offset="0" stop-color="#fff"/><stop offset="0.18" stop-color="#ffe9e4"/><stop offset="0.45" stop-color="#f59a8c" stop-opacity="0.75"/><stop offset="1" stop-color="#e0705c" stop-opacity="0"/>
</radialGradient>
<linearGradient id="plumeG" x1="75" y1="0" x2="0" y2="0" gradientUnits="userSpaceOnUse">
 <stop offset="0" stop-color="#fff" stop-opacity="0.95"/><stop offset="1" stop-color="#cfe6f4" stop-opacity="0.85"/>
</linearGradient>
<linearGradient id="pinkBox" x1="250" y1="630" x2="258" y2="660" gradientUnits="userSpaceOnUse">
 <stop offset="0" stop-color="#e3b9d6"/><stop offset="1" stop-color="#a8709e"/>
</linearGradient>
</defs>
<g id="rocket">
<path d="M76,699 L0,712 L0,727 L40,715 L76,704 Z" fill="url(#plumeG)" filter="url(#bl1)"/>
<path d="M174,701 C200,697 240,696.5 300,700 C325,702 343,706 351.5,711 C345,718 325,730 300,738 C280,744 262,746 245,745 C225,743.5 205,740.5 196,737 C186,733 179,728 177,722 C174.5,715 173.5,707 174,701 Z" fill="url(#fairLow)"/>
<path d="M196,737 C186,733 179,728 177,722 C174.5,715 173.5,707 174,701 L183,700.3 C183,708 184,716 187,722 C190,729 196,734 204,738 Z" fill="#dfeeee" opacity="0.9"/>
<circle cx="207.5" cy="717" r="3.6" fill="#1c4fb0"/>
<path d="M191,722 C196,728 203,734 212,737 L206,738 C198,735 192,729 188,724 Z" fill="#2a78c8"/>
<rect x="219" y="723" width="6.5" height="5.5" fill="#caa43a" transform="rotate(12 222 726)"/>
<path d="M181,707 L184,719" stroke="#444" stroke-width="1.6"/>
<polygon points="80.0,682.5 162.0,645.5 178.0,693.5 91.0,711.0" fill="url(#rkBody)" />
<polygon points="145.0,653.5 201.0,625.0 227.0,675.5 162.0,699.5" fill="url(#rkWhite)" />
<line x1="160.0" y1="646.5" x2="177.0" y2="696.0" stroke="#8a8884" stroke-width="1" />
<line x1="181.0" y1="635.5" x2="201.0" y2="687.0" stroke="#8d8b86" stroke-width="1.2" />
<circle cx="183" cy="659.5" r="3.6" fill="#fbfbf8" stroke="#b8b6b0" stroke-width="0.6"/>
<path d="M152.5,662 l2.5,6.5 M156.5,660.5 l2.5,6.5" stroke="#333" stroke-width="1" fill="none"/>
<ellipse cx="100" cy="694" rx="34" ry="20" fill="#f2a090" opacity="0.45" filter="url(#bl6)"/>
<ellipse cx="214.5" cy="649" rx="14" ry="27" transform="rotate(-24 214.5 649)" fill="#e6d7a2"/>
<ellipse cx="216.5" cy="648.5" rx="10" ry="21.5" transform="rotate(-24 216.5 648.5)" fill="#1c1714"/>
<polygon points="214.0,640.0 228.0,619.0 262.0,600.0 300.0,614.0 304.0,640.0 232.0,666.0 218.0,660.0" fill="#241f1f" />
<polygon points="209.0,634.0 222.0,630.0 228.0,646.0 214.0,651.0" fill="#c9c3d6" />
<polygon points="230.5,618.0 240.0,612.0 246.0,613.5 252.0,607.0 257.0,608.0 263.4,599.7 268.5,604.1 258.0,612.0 252.0,613.0 245.0,619.0 236.8,621.8" fill="#e9a31a" />
<polygon points="233.0,626.0 248.0,621.0 262.0,617.0 275.0,618.0 281.0,625.0 276.0,633.0 252.0,638.0 236.0,640.0 230.5,634.0" fill="#e8a21c" />
<polygon points="250.0,622.0 262.0,618.0 272.0,620.0 270.0,628.0 256.0,630.0" fill="#f4d226" />
<polygon points="270.0,624.0 281.0,625.0 277.0,632.0 268.0,631.0" fill="#ef7f22" />
<polygon points="232.0,630.0 246.0,626.0 250.0,634.0 236.0,639.0" fill="#f1b322" />
<line x1="226.0" y1="637.0" x2="292.0" y2="628.0" stroke="#e9dcc6" stroke-width="1" />
<polygon points="220.5,648.5 298.0,626.5 304.5,640.0 231.5,665.0" fill="url(#pinkBox)" />
<polygon points="220.5,648.5 298.0,626.5 299.0,629.0 221.5,651.0" fill="#f0cde4" />
<polygon points="273.9,600.4 320.0,585.5 329.8,602.0 310.0,613.0 290.0,615.0 279.0,611.0" fill="#caa2c6" />
<polygon points="276.0,600.6 319.0,586.8 321.0,589.5 278.0,603.5" fill="#ecd2e6" />
<polygon points="292.0,606.0 312.0,598.0 317.0,605.0 298.0,612.0" fill="#8c6a90" />
<line x1="289.0" y1="607.0" x2="300.0" y2="626.0" stroke="#f1d8ea" stroke-width="1.6" />
<line x1="297.0" y1="604.0" x2="310.0" y2="620.0" stroke="#f1d8ea" stroke-width="1.6" />
<line x1="316.0" y1="601.0" x2="304.0" y2="620.0" stroke="#e8cfe2" stroke-width="1.4" />
<line x1="322.0" y1="590.0" x2="329.8" y2="602.0" stroke="#f3dcec" stroke-width="1.6" />
<path d="M216.7,576.7 C221.6,573.2 236.7,561.7 246.3,555.6 C255.9,549.5 265.0,544.7 274.4,540.2 C283.8,535.8 293.1,532.1 302.5,528.9 C311.9,525.7 322.9,523.0 330.6,521.2 C338.3,519.5 344.7,518.5 348.9,518.4 C353.1,518.3 354.8,520.1 356.0,520.5 L356,521.9 L344.7,537.3 L330.6,551.4 L302.5,569.7 L268.8,589.4 L233.6,605.6 Q222,592 216.7,576.7 Z" fill="#1b1c1f"/>
<path d="M197.0,585.2 C200.5,581.9 209.9,571.8 218.1,565.5 C226.3,559.2 236.9,552.8 246.3,547.2 C255.7,541.6 265.0,536.0 274.4,531.7 C283.8,527.4 293.1,523.9 302.5,521.2 C311.9,518.5 322.9,516.6 330.6,515.5 C338.3,514.4 344.5,514.2 348.9,514.8 C353.2,515.4 355.4,518.4 356.7,519.1 L348.9,518.4 C345.8,518.9 338.3,519.5 330.6,521.2 C322.9,523.0 311.9,525.7 302.5,528.9 C293.1,532.1 283.8,535.8 274.4,540.2 C265.0,544.7 255.9,549.5 246.3,555.6 C236.7,561.7 224.4,571.2 216.7,576.7 C209.0,582.2 202.8,586.5 200.0,588.5 Z" fill="#f7f7f3"/>
<polygon points="230.5,571.3 250.8,557.7 256.8,566.4 235.4,579.4" fill="#535d5b" opacity="0.95"/>
<polygon points="236.6,581.2 258.2,568.4 263.7,576.4 241.2,588.6" fill="#535d5b" opacity="0.95"/>
<polygon points="242.3,590.5 265.1,578.5 269.9,585.5 246.3,597.0" fill="#535d5b" opacity="0.95"/>
<polygon points="257.7,553.9 272.6,545.7 279.7,553.5 264.0,562.3" fill="#535d5b" opacity="0.95"/>
<polygon points="265.5,564.3 281.3,555.3 287.9,562.6 271.3,572.1" fill="#535d5b" opacity="0.95"/>
<polygon points="272.8,574.0 289.5,564.4 295.2,570.7 277.9,580.8" fill="#535d5b" opacity="0.95"/>
<polygon points="280.6,541.7 295.2,535.5 302.5,542.0 287.9,549.2" fill="#535d5b" opacity="0.95"/>
<polygon points="289.6,550.9 304.2,543.5 310.9,549.5 296.3,557.8" fill="#535d5b" opacity="0.95"/>
<polygon points="298.0,559.5 312.6,551.0 318.5,556.2 303.9,565.5" fill="#535d5b" opacity="0.95"/>
<polygon points="301.9,532.6 314.8,528.3 320.3,534.0 309.2,538.7" fill="#535d5b" opacity="0.95"/>
<polygon points="310.9,540.1 321.6,535.3 326.7,540.6 317.7,545.7" fill="#535d5b" opacity="0.95"/>
<polygon points="319.4,547.1 328.0,541.9 332.5,546.5 325.3,552.0" fill="#535d5b" opacity="0.95"/>
<circle cx="75" cy="701" r="22" fill="url(#exG)"/>
</g>
<defs>
<radialGradient id="globeG" cx="270" cy="70" r="22" gradientUnits="userSpaceOnUse"><stop offset="0" stop-color="#27405e"/><stop offset="0.6" stop-color="#172a42"/><stop offset="1" stop-color="#0a1420"/></radialGradient>
<radialGradient id="globeHalo" cx="275.9" cy="75.6" r="19.5" gradientUnits="userSpaceOnUse"><stop offset="0.8" stop-color="#35608f" stop-opacity="0.85"/><stop offset="1" stop-color="#23466f" stop-opacity="0"/></radialGradient>
<clipPath id="globeClip"><circle cx="275.9" cy="75.6" r="16"/></clipPath>
</defs>
<circle cx="275.9" cy="75.6" r="19.5" fill="url(#globeHalo)"/>
<circle cx="275.9" cy="75.6" r="16" fill="url(#globeG)"/>
<g clip-path="url(#globeClip)">
<path d="M283,69.5 C286,68 290,69 290.5,72 C291,75 288.5,77 285.5,76.5 C283,76 281.8,72 283,69.5 Z" fill="#4a3222"/>
<path d="M284,66 C287,64.5 290,65.5 291,67.5" stroke="#7d92ac" stroke-width="1.2" fill="none" opacity="0.6" filter="url(#bl1)"/>
<path d="M266,70 C268,68 271,68 273,69.5" stroke="#93a7c0" stroke-width="1.5" fill="none" opacity="0.6" filter="url(#bl1)"/>
<path d="M262,76 C265,72 270,72 273,74 C270,77 268,82 270,86 C266,85 262,81 262,76 Z" fill="#7f9cc0" opacity="0.55" filter="url(#bl1)"/>
<path d="M266,64 C271,60.5 279,60 284,63" stroke="#8aa6c6" stroke-width="1.6" fill="none" opacity="0.5" filter="url(#bl1)"/>
<path d="M264,84 C270,88 278,89 285,86" stroke="#9fb8d4" stroke-width="2" fill="none" opacity="0.55" filter="url(#bl1)"/>
<path d="M272,80 C276,82 281,82 285,80" stroke="#b9cbe0" stroke-width="1.2" fill="none" opacity="0.5" filter="url(#bl1)"/>
</g>
<path id="traj" d="M274.2,90.5 C274.2,92.1 273.9,94.7 274.5,100.3 C275.1,105.9 275.9,117.0 277.7,124.3 C279.5,131.6 282.2,137.2 285.3,143.9 C288.4,150.6 292.5,158.2 296.4,164.4 C300.2,170.7 302.1,174.2 308.4,181.4 C314.7,188.6 324.8,198.8 334.2,207.6 C343.6,216.3 355.3,226.3 364.6,233.9 C373.9,241.5 381.8,247.4 389.9,253.2 C398.0,259.0 402.4,261.9 413.4,268.7 C424.4,275.4 443.6,286.8 455.7,293.7 C467.8,300.6 474.3,303.5 486.0,309.9 C497.7,316.3 514.3,325.8 526.1,331.9 C537.9,338.0 546.0,341.3 557.0,346.8 C568.0,352.3 578.1,358.1 591.9,364.8 C605.7,371.6 626.8,381.0 640.0,387.3 C653.2,393.6 660.5,397.5 670.9,402.9 C681.3,408.2 693.0,414.8 702.5,419.4 C712.0,424.0 719.3,426.8 727.8,430.3 C736.2,433.8 744.8,437.2 753.2,440.4 C761.7,443.6 769.8,446.5 778.5,449.7 C787.2,452.9 795.6,455.6 805.7,459.5 C815.8,463.4 826.8,467.3 838.9,473.2 C851.0,479.1 865.0,486.3 878.1,494.8 C891.2,503.3 907.3,516.7 917.4,524.2 C927.5,531.7 931.7,534.0 938.7,540.0 C945.7,546.0 953.5,554.0 959.2,560.5 C964.9,567.0 969.0,571.9 972.9,578.7 C976.8,585.5 980.2,595.0 982.3,601.4 C984.4,607.8 985.0,611.7 985.4,617.4 C985.8,623.1 985.7,629.2 984.7,635.7 C983.8,642.2 982.4,649.4 979.7,656.2 C977.0,663.0 972.8,670.6 968.3,676.7 C963.8,682.8 957.7,688.4 952.4,692.6 C947.1,696.9 940.9,700.4 936.4,702.2 C931.9,704.0 928.1,703.9 925.1,703.6 C922.1,703.3 919.7,701.9 918.2,700.6 C916.7,699.3 916.5,697.7 916.1,696.0 C915.7,694.3 915.2,692.6 915.9,690.3 C916.6,688.0 917.5,685.8 920.5,682.4 C923.5,679.0 928.1,674.7 934.2,669.8 C940.3,664.9 948.5,658.3 956.9,652.8 C965.3,647.3 975.2,641.9 984.7,636.8 C994.2,631.7 1004.5,626.8 1013.9,622.0 C1023.3,617.2 1032.9,612.2 1041.2,608.3 C1049.5,604.4 1057.2,601.9 1064.0,598.8 C1070.8,595.7 1073.7,592.6 1081.8,589.5 C1089.9,586.4 1102.7,583.2 1112.4,580.1 C1122.1,577.0 1131.7,573.5 1140.0,571.0 C1148.3,568.5 1155.0,566.6 1162.5,564.8 C1170.0,563.0 1177.4,560.8 1184.8,560.1 C1192.2,559.4 1200.5,559.1 1207.0,560.6 C1213.5,562.1 1219.0,564.8 1223.7,569.0 C1228.4,573.2 1232.8,580.1 1234.9,585.7 C1237.0,591.3 1237.0,596.8 1236.3,602.4 C1235.6,608.0 1233.7,614.0 1230.7,619.1 C1227.7,624.2 1224.2,627.5 1218.2,633.0 C1212.2,638.5 1206.4,644.8 1195.0,652.0 C1183.6,659.2 1165.8,669.8 1150.0,676.0 C1134.2,682.2 1115.0,686.4 1100.0,689.0 C1085.0,691.6 1070.2,691.3 1060.0,691.5 C1049.8,691.7 1045.1,690.7 1038.9,690.3 C1032.7,689.9 1028.3,690.5 1023.0,689.2 C1017.7,687.9 1011.5,685.2 1007.1,682.4 C1002.7,679.5 999.0,675.7 996.8,672.1 C994.6,668.5 993.6,664.9 993.8,660.7 C994.0,656.5 995.3,651.7 997.9,647.1 C1000.5,642.5 1004.3,638.1 1009.3,633.4 C1014.2,628.6 1021.1,623.1 1027.6,618.6 C1034.1,614.1 1042.0,609.3 1048.1,606.1 C1054.2,602.9 1061.3,600.6 1064.0,599.5" fill="none" stroke="#f3f08f" stroke-width="2.7" stroke-linecap="round" stroke-linejoin="round"/>
<defs>
<linearGradient id="pinkTube" x1="340" y1="58" x2="346" y2="80" gradientUnits="userSpaceOnUse"><stop offset="0" stop-color="#b98aa8"/><stop offset="0.35" stop-color="#f0d3e2"/><stop offset="0.7" stop-color="#dca3c4"/><stop offset="1" stop-color="#a8769a"/></linearGradient>
<linearGradient id="silver" x1="0" y1="0" x2="1" y2="1"><stop offset="0" stop-color="#d2d4de"/><stop offset="0.5" stop-color="#bdbfca"/><stop offset="1" stop-color="#a6a8b4"/></linearGradient>
<linearGradient id="silver2" x1="0" y1="0" x2="1" y2="0.6"><stop offset="0" stop-color="#d3d4de"/><stop offset="0.55" stop-color="#b9bbc7"/><stop offset="1" stop-color="#8f919d"/></linearGradient>
<linearGradient id="gold" x1="0" y1="0" x2="1" y2="1"><stop offset="0" stop-color="#d8b01c"/><stop offset="0.5" stop-color="#c79c14"/><stop offset="1" stop-color="#9c7a0e"/></linearGradient>
<linearGradient id="goldBig" x1="0" y1="0" x2="1" y2="1"><stop offset="0" stop-color="#b09a42"/><stop offset="0.6" stop-color="#a38c38"/><stop offset="1" stop-color="#8b752c"/></linearGradient>
<linearGradient id="shieldBig" x1="1050" y1="670" x2="1210" y2="610" gradientUnits="userSpaceOnUse"><stop offset="0" stop-color="#d2d3e6"/><stop offset="0.5" stop-color="#e6e7f4"/><stop offset="1" stop-color="#dcdcee"/></linearGradient>
</defs>
<g id="s1">
<polygon points="334.0,82.0 352.0,77.0 370.0,72.0 372.0,82.0 352.0,90.0 338.0,93.0" fill="#2a2522" />
<polygon points="352.0,80.0 369.0,75.0 370.0,83.0 354.0,88.0" fill="#6b5a22" />
<polygon points="327.4,63.7 383.1,51.1 390.2,63.7 373.0,70.3 336.5,81.3" fill="url(#pinkTube)" />
<polygon points="372.0,53.6 383.1,51.1 390.2,63.7 378.0,68.3" fill="#b9a7d6" />
<polygon points="331.0,60.5 360.0,53.0 361.0,54.5 332.0,62.5" fill="#8d7289" />
<polygon points="306.1,72.4 322.3,62.7 327.4,63.7 333.5,84.5 316.3,95.6 313.2,93.6" fill="#85769a" />
<polygon points="322.3,62.7 327.4,63.7 333.5,84.5 329.0,86.5" fill="#a89bc2" />
<ellipse cx="314.5" cy="80" rx="5.2" ry="8.8" transform="rotate(-22 314.5 80)" fill="#5c5068" stroke="#b7abc9" stroke-width="1.2"/>
</g>
<g id="s2">
<polygon points="359.4,122.3 363.4,110.2 384.0,104.0 406.0,106.1 431.3,114.2 429.2,126.4 415.0,131.4 400.9,136.5 372.0,128.0" fill="#2b2024" />
<polygon points="372.0,122.0 416.0,116.0 416.0,128.0 400.9,136.5 368.0,127.0" fill="#3f252d" />
<polygon points="416.0,115.2 431.3,114.2 429.2,126.4 415.0,131.4" fill="#4e3240" />
<polygon points="376.6,106.0 383.0,103.0 400.0,102.5 405.0,106.0 404.0,110.0 378.0,110.5" fill="#7d6c22" />
<polygon points="363.0,112.0 376.0,107.0 378.0,118.0 366.0,122.0" fill="#3a3a3e" />
<circle cx="407.5" cy="112.5" r="1.8" fill="#b5a54a"/>
<polygon points="360.4,127.4 416.1,145.6 413.0,166.9 359.4,147.6" fill="#7a6d9c" />
<line x1="371.5" y1="131.0" x2="370.1" y2="151.5" stroke="#c9bde0" stroke-width="1.1" />
<line x1="382.7" y1="134.7" x2="380.8" y2="155.3" stroke="#c9bde0" stroke-width="1.1" />
<line x1="393.8" y1="138.3" x2="391.6" y2="159.2" stroke="#c9bde0" stroke-width="1.1" />
<line x1="405.0" y1="142.0" x2="402.3" y2="163.0" stroke="#c9bde0" stroke-width="1.1" />
<polygon points="344.2,116.3 359.4,122.3 359.4,148.7 345.2,139.5" fill="#9a7d9f" />
<ellipse cx="351.5" cy="131" rx="4.8" ry="9" transform="rotate(-12 351.5 131)" fill="#b58ba8" stroke="#c8a8c4" stroke-width="0.8"/>
<ellipse cx="350" cy="129" rx="2" ry="3.5" fill="#4a58c0"/>
<circle cx="344.8" cy="130.6" r="3.2" fill="#1f7fff" filter="url(#bl1)"/>
</g>
<g id="s3">
<polyline points="395,181.3 380.4,188.2 448.2,212.3" fill="none" stroke="#cb9db6" stroke-width="2.8" stroke-linejoin="round"/>
<polyline points="395,181.6 381.5,188" fill="none" stroke="#efd5e2" stroke-width="1"/>
<line x1="407.6" y1="206.0" x2="446.9" y2="218.6" stroke="#6d7c9c" stroke-width="1.2" />
<polyline points="474.7,211.4 500,214.2 530.4,216.6" fill="none" stroke="#cb9db6" stroke-width="2.8"/>
<line x1="523.0" y1="204.7" x2="523.6" y2="215.0" stroke="#d4c9d8" stroke-width="1" />
<line x1="527.3" y1="204.7" x2="530.0" y2="215.0" stroke="#d4c9d8" stroke-width="1" />
<polygon points="448.2,209.7 474.7,209.7 474.7,222.4 448.2,222.4" fill="#a9a1d2" />
<polygon points="448.2,209.7 474.7,209.7 474.7,214.5 448.2,214.5" fill="#e2b4cc" />
<polygon points="454.5,193.3 467.0,193.3 467.0,209.7 454.5,209.7" fill="#8e8e9e" />
<polygon points="456.0,196.0 460.0,196.0 460.0,209.0 456.0,209.0" fill="#d8d8e2" />
<polygon points="447.5,166.7 457.0,164.0 457.0,193.3 447.5,193.3" fill="#34343f" />
<polygon points="449.5,177.0 456.0,177.0 456.0,181.0 449.5,181.0" fill="#c8c8d0" />
<polygon points="457.0,162.0 460.0,160.4 465.9,159.1 467.1,190.8 462.0,192.5 457.0,190.8 458.5,186.0 457.0,181.0 458.5,176.0 457.0,171.0 458.5,166.0" fill="#b19a20" />
<polygon points="467.0,148.0 471.0,146.0 473.5,198.4 468.0,198.4" fill="#8f86a8" />
<line x1="467.5" y1="148.0" x2="468.5" y2="198.0" stroke="#e6e0f2" stroke-width="1" />
<line x1="448.2" y1="161.6" x2="469.7" y2="142.0" stroke="#c9c4d4" stroke-width="1" />
<line x1="469.7" y1="142.0" x2="473.3" y2="146.0" stroke="#c9c4d4" stroke-width="1" />
<line x1="448.6" y1="164.0" x2="467.0" y2="148.5" stroke="#9a96a6" stroke-width="0.8" />
</g>
<g id="s4">
<polygon points="521.9,241.5 543.2,243.8 556.0,256.0 573.5,256.0 611.5,268.1 629.8,284.8 611.5,284.8 546.2,274.2 502.2,271.1 509.7,259.0" fill="url(#silver)" />
<polygon points="547.7,258.0 575.0,262.0 577.0,277.2 547.7,273.0" fill="#eeeff6" />
<polygon points="544.7,275.0 629.8,285.0 628.0,287.5 600.0,286.0 546.0,279.0" fill="#d8a4c2" />
<polygon points="546.0,276.0 556.0,277.2 556.0,281.0 546.5,279.8" fill="#5a4fb0" />
<polygon points="502.2,271.1 506.0,266.0 504.0,276.0" fill="#d4d4dc" />
<line x1="521.5" y1="240.8" x2="523.8" y2="249.0" stroke="#f4f4f8" stroke-width="1.3" />
<line x1="534.5" y1="240.0" x2="535.6" y2="248.4" stroke="#f4f4f8" stroke-width="1.3" />
<line x1="610.2" y1="257.5" x2="611.5" y2="271.0" stroke="#e8e8f0" stroke-width="1.2" />
<line x1="611.5" y1="271.0" x2="611.5" y2="284.0" stroke="#50505c" stroke-width="1.4" />
<line x1="625.0" y1="268.0" x2="629.0" y2="283.0" stroke="#d8d8e4" stroke-width="1" />
<polygon points="556.8,252.9 573.5,252.9 573.5,265.0 556.8,265.0" fill="#2c2c36" />
<polygon points="544.7,212.0 549.0,208.9 552.3,210.4 553.0,245.3 548.0,248.4 545.0,240.0" fill="#8a7010" />
<line x1="549.5" y1="210.0" x2="550.5" y2="247.0" stroke="#b7b0dc" stroke-width="1.3" />
<polygon points="566.0,196.7 581.1,205.8 581.9,240.8 579.6,252.9 558.4,252.9 553.0,245.3 552.3,210.4 556.8,201.3" fill="url(#gold)" />
<line x1="562.0" y1="200.0" x2="559.0" y2="250.0" stroke="#e2c840" stroke-width="0.9" />
<line x1="572.0" y1="200.0" x2="575.0" y2="250.0" stroke="#e2c840" stroke-width="0.9" />
<polygon points="563.0,224.0 572.0,224.0 572.0,230.5 563.0,230.5" fill="#1a1a20" />
<line x1="566.0" y1="186.0" x2="562.5" y2="199.0" stroke="#8b8aa8" stroke-width="1.1" />
<line x1="572.8" y1="186.0" x2="575.5" y2="199.5" stroke="#8b8aa8" stroke-width="1.1" />
<line x1="566.0" y1="186.0" x2="572.8" y2="186.0" stroke="#8b8aa8" stroke-width="1" />
</g>
<g id="s5">
<polygon points="640.7,343.4 700.0,348.0 713.4,350.0 711.0,357.6 680.0,356.0 645.0,349.0" fill="#e0b2ca" />
<polygon points="600.0,320.4 642.5,296.5 686.8,308.0 725.8,318.6 688.6,334.6" fill="url(#silver2)" />
<polygon points="690.0,309.5 722.0,318.3 700.0,328.5 672.0,322.0" fill="#eef0f5" opacity="0.75"/>
<polygon points="600.0,320.4 688.6,334.6 688.6,352.3 591.0,336.3" fill="#8a8d98" />
<line x1="599.0" y1="321.5" x2="688.6" y2="335.6" stroke="#dcdde4" stroke-width="1.3" />
<line x1="599.0" y1="324.6" x2="688.6" y2="338.7" stroke="#6f727d" stroke-width="1.3" />
<line x1="599.0" y1="327.7" x2="688.6" y2="341.8" stroke="#d2d3db" stroke-width="1.3" />
<line x1="599.0" y1="330.8" x2="688.6" y2="344.9" stroke="#6a6d78" stroke-width="1.3" />
<line x1="599.0" y1="333.9" x2="688.6" y2="348.0" stroke="#c9cad2" stroke-width="1.3" />
<polygon points="688.6,334.6 725.8,318.6 731.0,332.8 711.6,345.2 688.6,352.3" fill="#a5a7b2" />
<line x1="688.6" y1="336.0" x2="726.5" y2="320.0" stroke="#e0e1e8" stroke-width="1.3" />
<line x1="688.6" y1="339.3" x2="726.5" y2="323.3" stroke="#72757f" stroke-width="1.3" />
<line x1="688.6" y1="342.6" x2="726.5" y2="326.6" stroke="#d4d5dc" stroke-width="1.3" />
<line x1="688.6" y1="345.9" x2="726.5" y2="329.9" stroke="#6d707a" stroke-width="1.3" />
<line x1="688.6" y1="334.6" x2="688.6" y2="352.3" stroke="#e8e8ee" stroke-width="1.6" />
<line x1="709.0" y1="327.0" x2="711.6" y2="345.2" stroke="#e8e8ee" stroke-width="1.4" />
<polygon points="591.0,336.3 597.0,332.0 594.5,342.0" fill="#e8e8ee" />
<polygon points="656.7,316.8 676.0,316.8 676.0,327.5 656.7,327.5" fill="#2b2b34" />
<polygon points="642.5,264.6 648.7,261.9 648.7,302.7 642.5,302.7" fill="#c5bde4" />
<polygon points="663.7,249.5 683.2,259.2 686.8,309.7 676.0,316.8 660.2,316.8 648.7,308.0 648.7,261.9" fill="url(#gold)" />
<line x1="661.0" y1="252.0" x2="652.0" y2="305.0" stroke="#2e2a18" stroke-width="1.2" />
<line x1="668.0" y1="252.0" x2="680.0" y2="310.0" stroke="#2e2a18" stroke-width="1.2" />
<polygon points="662.0,278.7 672.6,278.7 672.6,289.4 662.0,289.4" fill="#1d1d24" />
<polygon points="664.0,281.0 670.0,281.0 670.0,285.0 664.0,285.0" fill="#c8c8d0" />
<polygon points="683.2,262.0 687.0,266.0 688.0,300.0 686.0,306.0" fill="#a79ad0" />
<line x1="665.5" y1="238.9" x2="662.0" y2="251.3" stroke="#4b4a5c" stroke-width="1.3" />
<line x1="672.6" y1="238.9" x2="676.0" y2="253.0" stroke="#4b4a5c" stroke-width="1.3" />
</g>
<g id="s6">
<polygon points="728.4,377.7 786.9,360.9 822.0,371.0 824.0,352.0 857.8,344.0 866.6,368.0 863.0,379.0 735.0,381.0" fill="url(#silver2)" />
<polygon points="824.0,352.0 857.8,344.0 866.6,368.0 826.0,371.0" fill="#b9bbc6" />
<polygon points="852.0,346.0 857.8,344.0 866.6,368.0 861.0,370.0" fill="#e4e5ee" />
<polygon points="728.4,377.7 863.0,376.0 866.6,385.7 724.9,394.6" fill="#8b8e99" />
<line x1="729.0" y1="379.0" x2="864.0" y2="377.0" stroke="#d8d9e0" stroke-width="1.1" />
<line x1="729.0" y1="381.5" x2="864.0" y2="379.2" stroke="#6c6f7a" stroke-width="1.1" />
<line x1="729.0" y1="384.0" x2="864.0" y2="381.5" stroke="#cfd0d8" stroke-width="1.1" />
<line x1="729.0" y1="386.5" x2="864.0" y2="383.8" stroke="#686b76" stroke-width="1.1" />
<polygon points="726.6,389.2 829.0,383.0 829.4,387.0 724.9,394.6" fill="#e6bfd2" />
<polygon points="783.3,388.0 829.4,385.5 829.4,394.6 790.0,394.0" fill="#dcaec6" />
<polygon points="808.0,387.0 828.0,386.0 828.0,393.5 808.0,393.5" fill="#9aa0dc" />
<polygon points="724.9,394.6 729.0,378.0 733.0,379.0 729.0,394.0" fill="#e8e8ee" />
<polygon points="864.0,376.0 868.0,389.0 865.0,391.0 861.0,379.0" fill="#cfd0d8" />
<polygon points="813.0,358.0 824.5,352.0 826.5,371.5 813.0,372.5" fill="#9c9eaa" />
<polygon points="794.0,360.9 815.2,357.3 815.2,372.0 794.0,373.0" fill="#2b2b34" />
<polygon points="819.7,313.0 824.0,311.0 826.8,350.3 822.0,353.0" fill="#b59a1c" />
<polygon points="813.5,309.5 819.7,313.0 822.0,353.0 815.2,357.3" fill="#8c84b8" />
<polygon points="795.7,304.2 813.5,309.5 815.2,357.3 804.6,364.4 790.4,360.9 786.9,343.2 786.9,313.0" fill="url(#gold)" />
<polygon points="792.2,329.0 804.6,329.0 804.6,339.6 792.2,339.6" fill="#1d1d24" />
<line x1="743.5" y1="328.1" x2="799.3" y2="297.1" stroke="#70707c" stroke-width="2.3" />
<line x1="743.5" y1="333.4" x2="811.7" y2="362.7" stroke="#7c7c88" stroke-width="2.3" />
<line x1="745.0" y1="330.0" x2="790.0" y2="358.0" stroke="#55555f" stroke-width="1.5" />
<line x1="743.5" y1="326.0" x2="744.4" y2="336.0" stroke="#8a8a96" stroke-width="2.2" />
<circle cx="802" cy="297.5" r="1.6" fill="#d8d8e0"/>
</g>
<g id="s7">
<polygon points="872.2,419.2 945.1,405.1 981.5,401.0 1020.0,386.8 1028.1,391.9 1001.8,415.2 1005.8,423.3 880.0,425.0" fill="url(#silver2)" />
<polygon points="981.5,401.0 1020.0,386.8 1028.1,391.9 1001.8,415.2" fill="#8d909c" />
<polygon points="872.2,419.2 1001.0,414.5 1009.9,429.4 870.1,435.4" fill="#878a95" />
<line x1="873.0" y1="420.5" x2="1003.0" y2="416.0" stroke="#d6d7de" stroke-width="1.1" />
<line x1="873.0" y1="423.1" x2="1003.0" y2="418.6" stroke="#6a6d78" stroke-width="1.1" />
<line x1="873.0" y1="425.7" x2="1003.0" y2="421.2" stroke="#cdced6" stroke-width="1.1" />
<line x1="873.0" y1="428.3" x2="1003.0" y2="423.8" stroke="#666974" stroke-width="1.1" />
<polygon points="872.0,430.5 990.0,425.5 990.0,428.5 870.1,435.4" fill="#e6bfd2" />
<polygon points="937.0,429.4 983.5,427.5 983.5,437.5 945.0,437.5" fill="#dcaec6" />
<polygon points="958.0,430.0 981.0,429.0 981.0,436.5 958.0,436.5" fill="#98a0de" />
<polygon points="870.1,435.4 873.5,419.5 877.0,420.0 874.0,435.0" fill="#e8e8ee" />
<polygon points="1001.8,415.2 1009.9,429.4 1007.0,431.0 999.0,417.0" fill="#d0d1d9" />
<polygon points="1020.6,393.9 1029.0,392.5 1035.2,411.6 1026.2,412.2" fill="#dedef0" />
<polygon points="947.0,399.0 967.0,396.0 969.0,409.0 949.0,410.0" fill="#2b2b34" />
<polygon points="949.1,346.3 961.3,346.3 965.3,360.5 964.3,397.0 955.2,405.1 944.1,399.0 942.0,360.5" fill="url(#gold)" />
<polygon points="967.3,360.5 973.4,354.4 982.5,362.5 981.5,390.9 975.4,397.0 967.3,395.0" fill="#d8c122" />
<polygon points="964.3,350.0 967.3,352.0 967.3,400.0 964.3,402.0" fill="#8c84b8" />
<polygon points="945.0,372.7 957.2,372.7 957.2,380.8 945.0,380.8" fill="#1d1d24" />
<line x1="888.4" y1="371.0" x2="953.2" y2="340.3" stroke="#70707c" stroke-width="2.1" />
<line x1="888.4" y1="377.0" x2="949.1" y2="403.0" stroke="#7c7c88" stroke-width="2.1" />
<line x1="890.0" y1="374.5" x2="944.0" y2="398.0" stroke="#55555f" stroke-width="1.3" />
<line x1="888.2" y1="369.0" x2="888.6" y2="379.0" stroke="#8a8a96" stroke-width="2.2" />
<circle cx="954" cy="340.5" r="1.6" fill="#d8d8e0"/>
</g>
<g id="s8">
<polygon points="1040.6,701.9 1051.3,695.7 1068.0,701.0 1143.4,679.7 1128.0,694.0 1090.3,725.8 1074.3,717.0 1058.4,713.4" fill="#e4a0d2" />
<polygon points="1068.0,701.0 1143.4,679.7 1139.0,684.0 1074.0,705.5" fill="#f4c6e8" />
<polygon points="1052.0,702.0 1072.0,709.0 1071.0,712.0 1050.0,705.0" fill="#c684b6" />
<polygon points="1076.0,712.0 1120.0,692.0 1118.0,696.0 1079.0,715.0" fill="#f0bce2" />
<polygon points="1175.3,672.7 1207.2,663.8 1205.4,670.9 1194.8,678.0 1182.0,676.0" fill="#7a5aba" />
<polygon points="1210.8,621.3 1219.6,626.6 1216.1,633.7 1212.6,628.0" fill="#e4a0d2" />
<polyline points="1043.3,670.9 1038,706.3 1040.6,724" fill="none" stroke="#8890b8" stroke-width="1.6"/>
<polyline points="1070.8,676.2 1059.2,715.2 1062.8,735.6" fill="none" stroke="#8890b8" stroke-width="1.6"/>
<line x1="1036.0" y1="703.0" x2="1043.0" y2="708.0" stroke="#5a607c" stroke-width="1.6" />
<line x1="1057.0" y1="713.0" x2="1065.0" y2="718.0" stroke="#5a607c" stroke-width="1.6" />
<polyline points="1223.2,640.8 1228.5,667.3 1207.2,664.7" fill="none" stroke="#34345a" stroke-width="1.8"/>
<line x1="1207.2" y1="601.8" x2="1214.3" y2="616.0" stroke="#4e4e70" stroke-width="1.2" />
<polygon points="1045.1,669.1 1072.5,675.3 1216.1,642.5 1217.8,658.5 1068.1,701.0 1042.4,690.4" fill="#383a4e" />
<polyline points="1044.6,670.2 1072.3,676.6 1216.3,643.6" fill="none" stroke="#d6d7e6" stroke-width="2.0"/>
<polyline points="1044.0,674.8 1071.4,682.1 1216.6,647.0" fill="none" stroke="#b6b8cc" stroke-width="2.0"/>
<polyline points="1043.5,679.5 1070.5,687.6 1217.0,650.4" fill="none" stroke="#b6b8cc" stroke-width="2.0"/>
<polyline points="1042.9,684.1 1069.6,693.1 1217.3,653.8" fill="none" stroke="#b6b8cc" stroke-width="2.0"/>
<polyline points="1042.4,688.7 1068.7,698.6 1217.7,657.2" fill="none" stroke="#b6b8cc" stroke-width="2.0"/>
<polygon points="1045.1,669.1 1072.5,647.8 1100.9,631.9 1123.9,623.9 1177.1,610.6 1204.6,605.3 1212.5,619.5 1216.1,642.5 1072.5,675.3" fill="url(#shieldBig)" />
<polygon points="1045.1,669.1 1072.5,647.8 1100.9,631.9 1112.0,642.0 1085.0,664.0 1072.5,675.3" fill="#c4c6de" opacity="0.75"/>
<polygon points="1098.0,657.0 1122.0,641.0 1150.0,634.0 1168.0,637.0 1148.0,650.0 1118.0,660.0" fill="#f6f7fc" opacity="0.85"/>
<polygon points="1180.0,611.0 1204.6,605.3 1212.5,619.5 1214.0,632.0 1190.0,636.0" fill="#e6e6f6" opacity="0.7"/>
<line x1="1076.0" y1="598.0" x2="1124.0" y2="626.0" stroke="#34344c" stroke-width="1.4" />
<polygon points="1161.6,616.0 1175.6,612.0 1175.6,632.0 1163.0,637.0 1150.0,640.0" fill="#2e3560" />
<polygon points="1128.0,628.0 1146.0,636.0 1164.0,628.0 1164.7,642.0 1147.0,648.0 1128.0,640.0" fill="#c6cae2" />
<polygon points="1140.0,640.0 1150.0,637.0 1151.0,647.0 1141.0,649.0" fill="#7e92c4" />
<polygon points="1141.4,553.9 1150.0,559.5 1161.6,565.3 1166.0,569.0 1175.6,574.2 1175.0,595.0 1174.3,615.9 1169.0,620.0 1164.2,626.1 1152.0,631.0 1143.4,638.1 1133.0,632.5 1124.9,628.6 1120.0,620.0 1113.5,613.4 1115.0,596.0 1113.5,578.0 1119.0,572.0 1126.2,565.3 1133.0,560.0" fill="url(#goldBig)" />
<polygon points="1171.5,572.0 1175.6,574.2 1174.3,615.9 1171.0,619.0" fill="#9aa2cc" />
<polygon points="1131.0,591.0 1149.0,589.0 1149.0,602.5 1131.0,603.5" fill="#34349a" />
<polygon points="1134.0,595.0 1146.0,594.0 1146.0,598.0 1134.0,599.0" fill="#d8d8ee" />
<line x1="1070.5" y1="586.0" x2="1138.9" y2="548.9" stroke="#4e4e70" stroke-width="2.6" />
<line x1="1142.7" y1="542.5" x2="1141.4" y2="554.0" stroke="#7a7a90" stroke-width="1" />
<line x1="1071.0" y1="601.5" x2="1146.0" y2="640.5" stroke="#26263c" stroke-width="3" />
<line x1="1071.6" y1="600.0" x2="1146.5" y2="639.0" stroke="#55557a" stroke-width="0.9" />
<polygon points="1064.5,589.0 1069.5,584.0 1077.0,585.5 1081.0,594.0 1078.0,602.5 1069.0,604.0 1064.0,597.0" fill="#3a3032" />
</g>
<polyline class="ld"  points="178.5,74.8 268.5,74.8"/>
<polyline class="ld"  points="29.0,100.3 268.0,100.3"/>
<polyline class="ld"  points="153.7,124.2 271.2,124.2"/>
<polyline class="ld"  points="124.5,181.4 301.8,181.4"/>
<polyline class="ld"  points="212.2,243.7 413.9,243.7 413.9,262.2"/>
<polyline class="ld"  points="292.2,300.3 526.1,300.3 526.1,325.4"/>
<polyline class="ld"  points="380.5,364.8 585.4,364.8"/>
<polyline class="ld"  points="512.7,402.9 664.4,402.9"/>
<polyline class="ld"  points="616.0,459.6 799.2,459.6"/>
<polyline class="ld"  points="731.6,601.6 975.8,601.6"/>
<polyline class="ld"  points="758.7,695.8 910.0,695.8"/>
<polyline class="ld" style="stroke:#9c9c9c" points="689.8,108.0 1280.0,108.0"/>
<circle class="ring" cx="275.0" cy="75.2" r="6.4"/><circle class="dot" cx="275.0" cy="75.2" r="2.5"/>
<circle class="ring" cx="274.5" cy="100.3" r="6.4"/><circle class="dot" cx="274.5" cy="100.3" r="2.5"/>
<circle class="ring" cx="277.7" cy="124.3" r="6.4"/><circle class="dot" cx="277.7" cy="124.3" r="2.5"/>
<circle class="ring" cx="308.4" cy="181.4" r="6.4"/><circle class="dot" cx="308.4" cy="181.4" r="2.5"/>
<circle class="ring" cx="413.4" cy="268.7" r="6.4"/><circle class="dot" cx="413.4" cy="268.7" r="2.5"/>
<circle class="ring" cx="526.1" cy="331.9" r="6.4"/><circle class="dot" cx="526.1" cy="331.9" r="2.5"/>
<circle class="ring" cx="591.9" cy="364.8" r="6.4"/><circle class="dot" cx="591.9" cy="364.8" r="2.5"/>
<circle class="ring" cx="670.9" cy="402.9" r="6.4"/><circle class="dot" cx="670.9" cy="402.9" r="2.5"/>
<circle class="ring" cx="805.7" cy="459.5" r="6.4"/><circle class="dot" cx="805.7" cy="459.5" r="2.5"/>
<circle class="ring" cx="982.3" cy="601.4" r="6.4"/><circle class="dot" cx="982.3" cy="601.4" r="2.5"/>
<circle class="ring" cx="916.5" cy="695.9" r="6.4"/><circle class="dot" cx="916.5" cy="695.9" r="2.5"/>
<circle class="ring" cx="683.3" cy="108.0" r="6.4"/><circle class="dot" cx="683.3" cy="108.0" r="2.5"/>
<g opacity="0.999">
<text x="694" y="99" font-size="35" fill="#fff" stroke="#000" stroke-width="0.35" textLength="512.5" lengthAdjust="spacingAndGlyphs">Webb’s Journey from Launch to L2</text>
<text x="254.6" y="49.5" font-size="14.6" font-weight="bold" fill="#f4f4f4" textLength="42.1" lengthAdjust="spacingAndGlyphs">EARTH</text>
<text x="179.7" y="87.8" font-size="14" font-weight="bold" fill="#f1f0a6" textLength="45.1" lengthAdjust="spacingAndGlyphs">Launch</text>
<text class="h" x="29.8" y="115.0" textLength="150.0" lengthAdjust="spacingAndGlyphs" >Launch Vehicle Separates</text>
<text class="b" x="29.8" y="132.8" textLength="108.2" lengthAdjust="spacingAndGlyphs" >Distance: ~ 10,000 km</text>
<text class="b" x="29.8" y="147.1" textLength="42.8" lengthAdjust="spacingAndGlyphs" >~ 29 min</text>
<text class="h" x="153.7" y="140.3" textLength="109.6" lengthAdjust="spacingAndGlyphs" >Solar Array Deploys</text>
<text class="b" x="153.7" y="157.0" textLength="105.8" lengthAdjust="spacingAndGlyphs" >Distance: ~ 11,000 km</text>
<text class="b" x="153.7" y="171.2" textLength="43.3" lengthAdjust="spacingAndGlyphs" >~ 33 min</text>
<text class="h" x="124.8" y="197.1" textLength="126.6" lengthAdjust="spacingAndGlyphs" >Mid-Course Correction</text>
<text class="b" x="124.8" y="214.3" textLength="76.0" lengthAdjust="spacingAndGlyphs" >Trajectory Burn</text>
<text class="b" x="124.8" y="228.7" textLength="114.7" lengthAdjust="spacingAndGlyphs" >Distance: ~ 133,000 km</text>
<text class="b" x="124.8" y="243.2" textLength="52.4" lengthAdjust="spacingAndGlyphs" >~ 14 hours</text>
<text class="h" x="213.4" y="258.1" textLength="143.8" lengthAdjust="spacingAndGlyphs" >Sunshield Pallet Deploys</text>
<text class="b" x="213.4" y="275.1" textLength="117.5" lengthAdjust="spacingAndGlyphs" >Distance: ~ 454,000 km</text>
<text class="b" x="213.4" y="289.4" textLength="40.5" lengthAdjust="spacingAndGlyphs" >~ 3 days</text>
<text class="h" x="293.2" y="316.7" textLength="143.3" lengthAdjust="spacingAndGlyphs" >Initial Sunshield Deploys</text>
<text class="b" x="293.2" y="334.2" textLength="116.9" lengthAdjust="spacingAndGlyphs" >Distance: ~ 658,000 km</text>
<text class="b" x="293.2" y="348.4" textLength="40.5" lengthAdjust="spacingAndGlyphs" >~ 6 days</text>
<text class="h" x="382.5" y="381.3" textLength="155.2" lengthAdjust="spacingAndGlyphs" >Sunshield’s Layers Separate</text>
<text class="b" x="382.5" y="398.5" textLength="114.7" lengthAdjust="spacingAndGlyphs" >Distance: ~ 677,000 km</text>
<text class="b" x="382.5" y="412.9" textLength="40.5" lengthAdjust="spacingAndGlyphs" >~ 8 days</text>
<text class="h" x="511.9" y="419.6" textLength="142.5" lengthAdjust="spacingAndGlyphs" >Secondary Mirror Unfolds</text>
<text class="b" x="511.9" y="436.6" textLength="114.7" lengthAdjust="spacingAndGlyphs" >Distance: ~ 952,000 km</text>
<text class="b" x="511.9" y="450.5" textLength="46.3" lengthAdjust="spacingAndGlyphs" >~ 10 days</text>
<text class="h" x="615.2" y="476.3" textLength="167.6" lengthAdjust="spacingAndGlyphs" >Primary Mirror Wings Deploy</text>
<text class="b" x="615.2" y="493.3" textLength="122.8" lengthAdjust="spacingAndGlyphs" >Distance: ~ 1,000,000 km</text>
<text class="b" x="615.2" y="507.5" textLength="45.8" lengthAdjust="spacingAndGlyphs" >~ 13 days</text>
<text class="h" x="734.2" y="618.1" textLength="150.6" lengthAdjust="spacingAndGlyphs" >2nd Mid-Course Correction</text>
<text class="b" x="734.2" y="635.3" textLength="76.0" lengthAdjust="spacingAndGlyphs" >Trajectory Burn</text>
<text class="b" x="734.2" y="649.7" textLength="123.5" lengthAdjust="spacingAndGlyphs" >Distance: ~ 1,400,000 km</text>
<text class="b" x="734.2" y="663.9" textLength="46.8" lengthAdjust="spacingAndGlyphs" >~ 29 days</text>
<text class="h" x="760.0" y="713.5" textLength="112.9" lengthAdjust="spacingAndGlyphs" >L2 Halo Orbit Begins</text>
<text class="b" x="760.0" y="731.0" textLength="122.8" lengthAdjust="spacingAndGlyphs" >Distance: ~ 1,402,800 km</text>
<text class="b" x="760.0" y="745.2" textLength="45.8" lengthAdjust="spacingAndGlyphs" >~ 29 days</text>
<text class="c" x="449.1" y="778.3" textLength="182.2" lengthAdjust="spacingAndGlyphs" >Webb on the Ariane 5 Rocket credit: ESA</text>
<text class="c" x="661.3" y="778.3" textLength="95.9" lengthAdjust="spacingAndGlyphs" >Graphic credit: AURA</text>
<text class="c" x="786.7" y="778.3" textLength="225.0" lengthAdjust="spacingAndGlyphs" >Webb images: NASA Goddard Space Flight Center</text>
</g>
<rect x="0" y="0" width="1280" height="0.9" fill="#c9c9c9"/>
<rect x="0" y="0" width="1.3" height="790" fill="#f2f2f2"/>
<g id="aura" opacity="0.999">
<text x="1197.6" y="773.8" font-size="16.3" fill="#fff" stroke="#fff" stroke-width="0.35" textLength="39" lengthAdjust="spacingAndGlyphs">AURA</text>
<path d="M1200.5,758.9 C1206,756.3 1214,755 1222,754.9 C1232,754.9 1241,756.4 1248,758.6 L1260.5,762.9 L1264,764.8 L1255.4,774.8 C1251,770.5 1246,766.5 1240.2,763.6 C1232,759.6 1222,757.4 1212,757.3 C1207,757.4 1203,758 1200.5,758.9 Z" fill="#fff"/>
<circle cx="1254.4" cy="759.9" r="6.7" fill="#fff"/>
<path d="M1247.9,758.6 L1260.7,762.9 A6.7,6.7 0 0 1 1247.9,758.6 Z" fill="#000"/>
</g>
</svg>
</body></html>
